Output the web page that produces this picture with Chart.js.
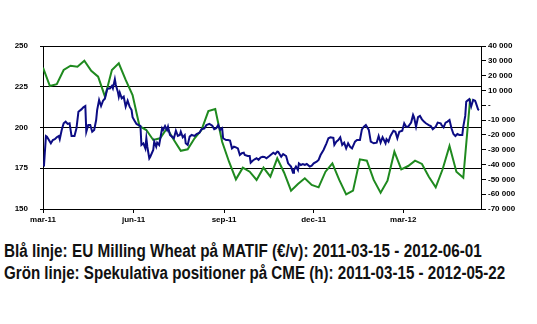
<!DOCTYPE html>
<html>
<head>
<meta charset="utf-8">
<script src="https://cdn.jsdelivr.net/npm/chart.js@4"></script>
<style>
  body { margin: 0; background: #fff; width: 537px; height: 324px; overflow: hidden; }
  #wrap { position: absolute; left: 0; top: 0; width: 537px; height: 230px; }
  .cap { position: absolute; left: 4px; font-family: "Liberation Sans", Arial, sans-serif;
         font-weight: bold; font-size: 18px; color: #111; white-space: nowrap; transform-origin: 0 0; }
</style>
</head>
<body>
<div id="wrap"><canvas id="chart"></canvas></div>
<div class="cap" id="cap1" data-w="478" style="top:241px">Blå linje: EU Milling Wheat på MATIF (€/v): 2011-03-15 - 2012-06-01</div>
<div class="cap" id="cap2" data-w="501" style="top:263px">Grön linje: Spekulativa positioner på CME (h): 2011-03-15 - 2012-05-22</div>
<script>
// days counted from 2011-03-15
const xTickDays = [0, 92, 184, 275, 366];
const xTickLabels = ['mar-11', 'jun-11', 'sep-11', 'dec-11', 'mar-12'];

// EU Milling Wheat, MATIF (EUR/t), left axis
const blueDays = [0, 1, 3, 4, 8, 10, 12, 14, 16, 17, 19, 21, 23, 25, 27, 29, 32, 34, 36, 39,
  41, 43, 44, 46, 48, 50, 52, 54, 55, 57, 59, 61, 63, 65, 66, 68, 70, 71, 73, 74,
  76, 77, 78, 80, 82, 84, 86, 88, 90, 91, 93, 95, 97, 99, 100, 102, 104, 105, 106, 108,
  109, 112, 113, 115, 116, 118, 121, 122, 124, 126, 127, 129, 131, 133, 135, 137, 139, 140, 142, 144,
  145, 147, 149, 151, 154, 156, 159, 161, 164, 166, 169, 172, 174, 176, 178, 180, 182, 183, 186, 188,
  190, 192, 194, 196, 198, 200, 202, 204, 205, 208, 210, 211, 213, 215, 217, 219, 221, 223, 225, 227,
  230, 234, 236, 238, 239, 242, 244, 247, 249, 252, 254, 255, 257, 259, 260, 262, 264, 266, 268, 271,
  273, 275, 278, 280, 282, 285, 288, 290, 292, 295, 296, 298, 300, 302, 304, 306, 308, 310, 312, 314,
  317, 319, 322, 324, 326, 328, 331, 333, 336, 339, 341, 343, 345, 348, 349, 351, 353, 356, 358, 360,
  362, 365, 367, 369, 371, 374, 376, 377, 379, 381, 383, 385, 387, 389, 392, 394, 396, 399, 401, 404,
  405, 407, 409, 411, 413, 415, 417, 419, 421, 423, 426, 427, 429, 430, 431, 433, 435, 437, 439, 440,
  442, 443];
const blueValues = [177, 176.8, 194.8, 194.4, 190.3, 192.3, 192.8, 194, 194.8, 192.8, 198.5, 202.6, 203.6, 202.2, 202.6, 194.8, 194.8, 199.5, 209.7, 211.1,
  212.4, 213.2, 197.4, 201.5, 201.5, 197.4, 198.5, 204.6, 210.7, 216.9, 213.2, 216.4, 217.9, 223, 224, 224, 225.5, 224, 229.6, 226.1,
  222, 218.9, 221.4, 217.9, 218.9, 212.8, 216.4, 212.8, 210.7, 206.3, 204.2, 202.2, 201.5, 201, 189.3, 190.3, 187.2, 193.4, 188.2, 181.1,
  182.1, 186.2, 191.3, 188.2, 190.7, 189.3, 199.5, 198.5, 200.9, 198.5, 200.5, 195.4, 194.4, 193.4, 198, 194.8, 195.4, 197.4, 194, 195.4,
  190.3, 189.3, 194.4, 195.4, 194.8, 196, 196.8, 198.9, 199.5, 201.5, 202.2, 201.1, 198.9, 199.5, 201.5, 198.5, 199.5, 193.4, 192.3, 192.3,
  192, 187.2, 188.2, 187.8, 187.2, 183.1, 184.2, 184.5, 183.1, 182.5, 182.5, 178.4, 179.6, 180.5, 181.1, 180.1, 181.5, 182.1, 181.9, 181.1,
  182.5, 184.5, 183.7, 185.2, 185, 182.1, 183.7, 182.5, 178, 176, 172.3, 173.9, 176, 173.9, 178, 177, 177.6, 177, 177.6, 176,
  176.6, 178, 179, 180.1, 183.1, 186.2, 190.3, 193.4, 194, 193.6, 189.3, 191.3, 192.3, 194, 189.3, 190.7, 187.2, 190.3, 188.2, 187.2,
  191.3, 192.3, 192.3, 198.9, 200.5, 201.5, 198.5, 191.3, 190.3, 190.7, 194.8, 190.7, 194, 190.3, 192.8, 191.3, 194.8, 198, 197.4, 193.4,
  197.4, 198, 202.6, 200.5, 200.5, 203, 207.7, 206.3, 200.5, 206.3, 207.1, 205, 203.6, 202.6, 201.5, 200.9, 198.9, 200.5, 203, 202.6,
  201.5, 200.1, 203, 203.6, 204.6, 199.5, 196, 194.8, 196, 195.4, 195.4, 200.5, 207.1, 215.8, 216.4, 217.3, 212.8, 216.9, 216.4, 214.8,
  211.1, 210.7];

// Speculative positions, CME (contracts), weekly, right axis
const greenWeeks = [0, 1, 2, 3, 4, 5, 6, 7, 8, 9, 10, 11, 12, 13, 14, 15, 16, 17, 18, 19, 20,
  21, 22, 23, 24, 25, 26, 27, 28, 29, 30, 31, 32, 33, 34, 35, 36, 37, 38, 39, 40, 41,
  42, 43, 44, 45, 46, 47, 48, 49, 50, 51, 52, 53, 54, 55, 56, 57, 58, 59, 60, 61, 62];
const greenValues = [25400, 13000, 14200, 23800, 26700, 26000, 30100, 23300, 19300, 5800, 23800,
  28300, 17100, 6900, -14000, -16700, -23400, -22300, -15500, -23400, -30700,
  -29700, -22300, -16700, -3900, -2500, -24600, -38100, -50000, -42100, -44800,
  -50400, -42100, -48200, -35800, -45500, -57600, -53100, -49300, -53800, -55400,
  -44800, -39200, -50400, -60100, -57600, -36500, -37400, -50400, -59000, -50900,
  -31300, -43200, -41000, -37400, -39600, -48200, -55400, -43200, -27500, -44800,
  -48900, 4500];

const leftTicks = [150, 175, 200, 225, 250];
const rightMin = -70000, rightMax = 40000;

const tickFont = { family: 'Liberation Sans, Arial, sans-serif', size: 8, weight: 'bold' };

function fmtThousands(v) {
  if (v === 0) return '-';
  const s = Math.abs(v).toString().replace(/\B(?=(\d{3})+(?!\d))/g, ' ');
  return (v < 0 ? '-' : '') + s;
}

const blueData = blueDays.map((d, i) => ({ x: d, y: blueValues[i] }));
const greenData = greenWeeks.map((w, i) => ({ x: w * 7, y: greenValues[i] }));

new Chart(document.getElementById('chart'), {
  type: 'line',
  data: {
    datasets: [{
      label: 'EU Milling Wheat',
      data: blueData,
      yAxisID: 'yL',
      borderColor: '#0c0c84',
      borderWidth: 2,
      pointRadius: 0,
      tension: 0
    }, {
      label: 'Spekulativa positioner',
      data: greenData,
      yAxisID: 'yR',
      borderColor: '#1f8a1f',
      borderWidth: 2,
      pointRadius: 0,
      tension: 0
    }]
  },
  options: {
    responsive: true,
    maintainAspectRatio: false,
    animation: false,
    layout: { padding: { top: 46, left: 0, right: 0, bottom: 0 } },
    plugins: { legend: { display: false }, tooltip: { enabled: false } },
    scales: {
      x: {
        type: 'linear',
        min: 0,
        max: 445,
        afterBuildTicks: s => { s.ticks = xTickDays.map(v => ({ value: v })); },
        afterFit: s => { s.height = 21; },
        ticks: {
          autoSkip: false,
          maxRotation: 0,
          padding: 2,
          color: '#000',
          font: tickFont,
          callback: v => xTickLabels[xTickDays.indexOf(v)]
        },
        grid: { drawOnChartArea: false, drawTicks: true, tickLength: 4, color: '#000' },
        border: { display: true, color: '#000', width: 1 }
      },
      yL: {
        position: 'left',
        min: 150,
        max: 250,
        afterBuildTicks: s => { s.ticks = leftTicks.map(v => ({ value: v })); },
        afterFit: s => { s.width = 43; },
        ticks: { color: '#000', font: tickFont, padding: 12 },
        grid: { color: '#000', lineWidth: 1, tickLength: 3 },
        border: { display: true, color: '#000', width: 1 }
      },
      yR: {
        position: 'right',
        min: rightMin,
        max: rightMax,
        afterFit: s => { s.width = 56; },
        ticks: { stepSize: 10000, color: '#000', font: tickFont, padding: 2, callback: v => fmtThousands(v) },
        grid: { drawOnChartArea: false, tickLength: 5, color: '#000' },
        border: { display: true, color: '#000', width: 1 }
      }
    }
  }
});

// squeeze the caption lines to the narrow width of the original
document.querySelectorAll('.cap').forEach(el => {
  const target = Number(el.dataset.w);
  el.style.transform = 'scaleX(' + (target / el.offsetWidth) + ')';
});
</script>
</body>
</html>
